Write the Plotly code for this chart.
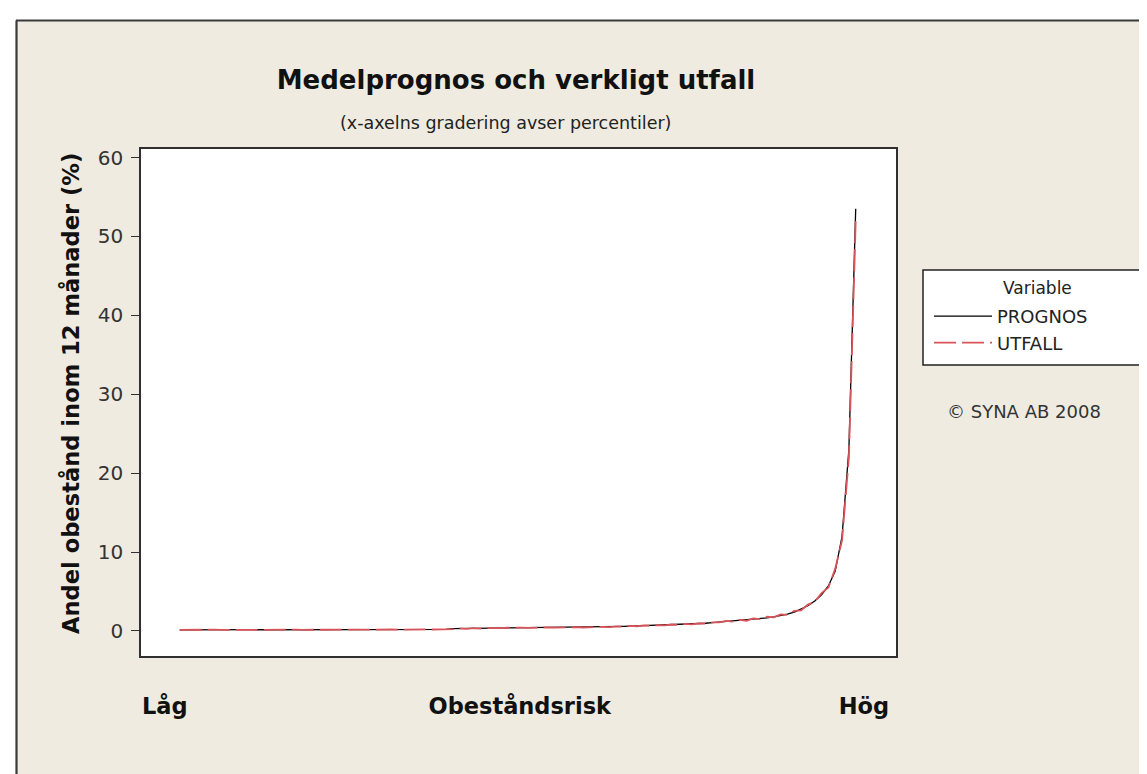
import plotly.graph_objects as go

# ---- data ----
percentiles = list(range(1, 101))

prognos = [
    0.14, 0.14, 0.14, 0.15, 0.15, 0.15, 0.15, 0.15, 0.15, 0.15,
    0.15, 0.15, 0.15, 0.15, 0.16, 0.16, 0.16, 0.16, 0.16, 0.16,
    0.16, 0.16, 0.17, 0.17, 0.17, 0.17, 0.17, 0.17, 0.18, 0.18,
    0.18, 0.18, 0.18, 0.19, 0.19, 0.19, 0.19, 0.20, 0.20, 0.21,
    0.30, 0.31, 0.32, 0.33, 0.34, 0.35, 0.36, 0.37, 0.38, 0.39,
    0.40, 0.41, 0.42, 0.43, 0.44, 0.44, 0.45, 0.45, 0.45, 0.46,
    0.46, 0.47, 0.50, 0.53, 0.56, 0.59, 0.62, 0.65, 0.68, 0.70,
    0.72, 0.75, 0.78, 0.80, 0.84, 0.88, 0.93, 0.98, 1.05, 1.12,
    1.20, 1.25, 1.30, 1.38, 1.46, 1.55, 1.66, 1.80, 1.95, 2.15,
    2.40, 2.75, 3.20, 3.80, 4.60, 5.70, 7.60, 12.0, 23.0, 53.5,
]

utfall = [
    0.13, 0.15, 0.16, 0.14, 0.15, 0.17, 0.14, 0.16, 0.15, 0.14,
    0.16, 0.15, 0.14, 0.16, 0.17, 0.15, 0.16, 0.17, 0.15, 0.16,
    0.17, 0.15, 0.16, 0.18, 0.17, 0.16, 0.18, 0.17, 0.19, 0.17,
    0.18, 0.19, 0.17, 0.20, 0.18, 0.19, 0.21, 0.19, 0.20, 0.22,
    0.24, 0.33, 0.27, 0.35, 0.31, 0.37, 0.34, 0.36, 0.41, 0.37,
    0.42, 0.39, 0.44, 0.41, 0.46, 0.42, 0.47, 0.43, 0.48, 0.44,
    0.49, 0.45, 0.53, 0.50, 0.58, 0.55, 0.64, 0.60, 0.71, 0.67,
    0.75, 0.71, 0.82, 0.78, 0.89, 0.85, 0.97, 0.95, 1.10, 1.08,
    1.27, 1.18, 1.40, 1.30, 1.60, 1.50, 1.80, 1.72, 2.10, 2.05,
    2.55, 2.60, 3.35, 3.70, 4.80, 5.50, 7.90, 11.5, 22.0, 52.0,
]

series_names = ["PROGNOS", "UTFALL"]
x_tick_labels = ["Låg", "Obeståndsrisk", "Hög"]
x_tick_positions = [-1.2, 50.8, 101.2]
y_tick_values = [0, 10, 20, 30, 40, 50, 60]

title_text = "Medelprognos och verkligt utfall"
subtitle_text = "(x-axelns gradering avser percentiler)"
y_title_text = "Andel obestånd inom 12 månader (%)"
legend_title_text = "Variable"
copyright_text = "© SYNA AB 2008"

# ---- figure ----
W, H = 1147, 774
L, R, T, B = 133, 259, 141, 126
PW, PH = W - L - R, H - T - B


def px(xp):
    return (xp - L) / PW


def py(yp):
    return (H - B - yp) / PH


FONT = "DejaVu Sans"
BG = "#EFEBE1"

fig = go.Figure()
fig.add_trace(go.Scatter(
    x=percentiles, y=prognos, mode="lines", name=series_names[0],
    line=dict(color="#000000", width=1.3),
))
fig.add_trace(go.Scatter(
    x=percentiles, y=utfall, mode="lines", name=series_names[1],
    line=dict(color="#D9545A", width=1.8, dash="22px,6px"),
))

fig.update_layout(
    width=W, height=H,
    margin=dict(l=L, r=R, t=T, b=B, autoexpand=False),
    paper_bgcolor=BG,
    plot_bgcolor="#FFFFFF",
    font=dict(family=FONT, color="#222222"),
    title=dict(
        text=title_text, x=px(508), xref="paper", xanchor="center",
        y=1 - 72 / H, yref="container", yanchor="middle",
        font=dict(family=FONT, size=26, color="#111111", weight="bold"),
    ),
    showlegend=True,
    legend=dict(
        x=px(921), y=py(290), xanchor="left", yanchor="top",
        bgcolor="rgba(0,0,0,0)", borderwidth=0,
        font=dict(family=FONT, size=18, color="#222222"),
        itemwidth=58,
        tracegroupgap=0,
    ),
    xaxis=dict(
        range=[-4.67, 105.9],
        showgrid=False, zeroline=False,
        showline=True, mirror=True, linecolor="#303030", linewidth=1.5,
        ticks="", tickvals=x_tick_positions, ticktext=x_tick_labels,
        tickfont=dict(family=FONT, size=22.5, color="#111111", weight="bold"),
        ticklabelstandoff=29,
    ),
    yaxis=dict(
        range=[-3.17, 61.08],
        showgrid=False, zeroline=False,
        showline=True, mirror=True, linecolor="#303030", linewidth=1.5,
        ticks="outside", ticklen=8, tickwidth=1.2, tickcolor="#303030",
        tickvals=y_tick_values,
        tickfont=dict(family=FONT, size=20, color="#333333"),
        ticklabelstandoff=4,
    ),
    shapes=[
        # white margin outside the outer frame
        dict(type="rect", xref="paper", yref="paper",
             x0=px(-5), x1=px(8), y0=py(790), y1=py(-5),
             fillcolor="#FFFFFF", line=dict(width=0), layer="above"),
        dict(type="rect", xref="paper", yref="paper",
             x0=px(-5), x1=px(1160), y0=py(12), y1=py(-5),
             fillcolor="#FFFFFF", line=dict(width=0), layer="above"),
        # outer frame (top and left edges visible)
        dict(type="line", xref="paper", yref="paper",
             x0=px(8), x1=px(1160), y0=py(12.5), y1=py(12.5),
             line=dict(color="#3A3A3A", width=2.2), layer="above"),
        dict(type="line", xref="paper", yref="paper",
             x0=px(8.5), x1=px(8.5), y0=py(12.5), y1=py(790),
             line=dict(color="#3A3A3A", width=2.2), layer="above"),
        # legend box
        dict(type="rect", xref="paper", yref="paper",
             x0=px(915), x1=px(1139), y0=py(357), y1=py(262),
             fillcolor="#FFFFFF", line=dict(color="#222222", width=1.5),
             layer="below"),
    ],
    annotations=[
        dict(text=subtitle_text, xref="paper", yref="paper",
             x=px(497), y=py(115), xanchor="center", yanchor="middle",
             showarrow=False, font=dict(family=FONT, size=17.5, color="#222222")),
        dict(text=y_title_text, xref="paper", yref="paper", textangle=-90,
             x=px(63), y=py(386), xanchor="center", yanchor="middle",
             showarrow=False,
             font=dict(family=FONT, size=22.6, color="#111111", weight="bold")),
        dict(text=legend_title_text, xref="paper", yref="paper",
             x=px(993), y=py(280), xanchor="left", yanchor="middle",
             showarrow=False, font=dict(family=FONT, size=17, color="#222222")),
        dict(text=copyright_text, xref="paper", yref="paper",
             x=px(1016), y=py(403), xanchor="center", yanchor="middle",
             showarrow=False, font=dict(family=FONT, size=18, color="#333333")),
    ],
)

fig.write_html("out.html")
